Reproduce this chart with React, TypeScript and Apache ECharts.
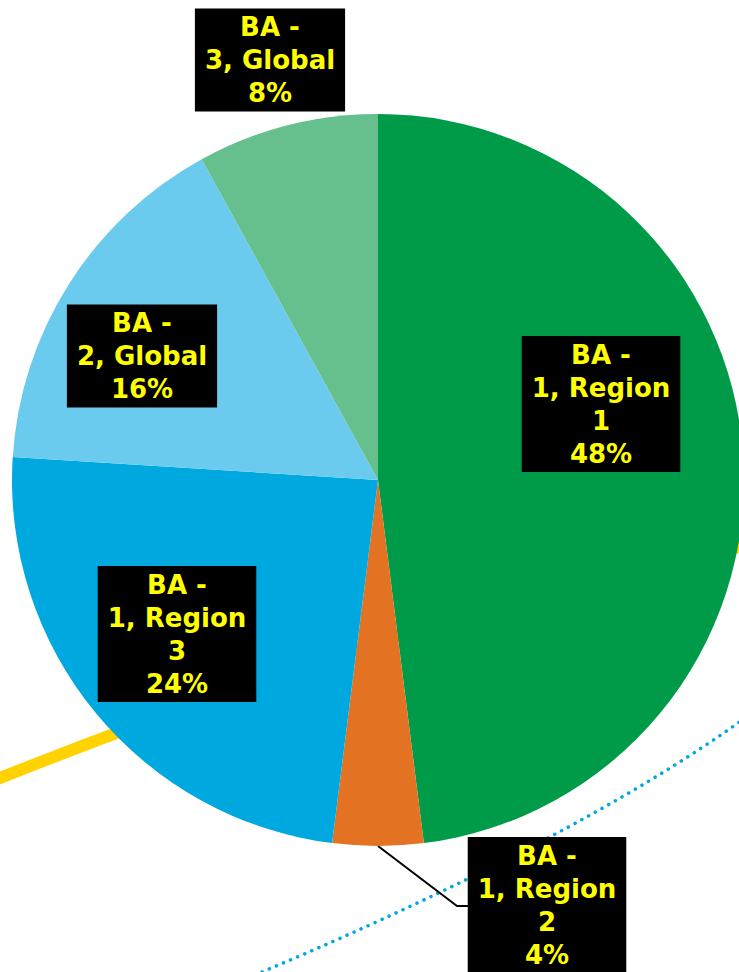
import React, { useEffect, useRef } from 'react';
import * as echarts from 'echarts';

const categories = [
  'BA - 1, Region 1',
  'BA - 1, Region 2',
  'BA - 1, Region 3',
  'BA - 2, Global',
  'BA - 3, Global',
];
const shares = [48, 4, 24, 16, 8];

const sliceColors = ['#009B48', '#E37222', '#00A8E0', '#6BCBEE', '#66C08E'];
const labelCenters: number[][] = [
  [601, 404],
  [547, 905],
  [177, 634],
  [142, 356],
  [270, 60],
];
const leaderPoints: number[][] = [
  [378, 846],
  [457, 906],
  [468, 906],
];

function wrapName(name: string): string {
  return name.replace(' - ', ' -\n').replace(/Region (\d+)/, 'Region\n$1');
}

export default function App() {
  const ref = useRef<HTMLDivElement>(null);
  useEffect(() => {
    if (!ref.current) return;
    const chart = echarts.init(ref.current, null, { renderer: 'svg' });
    const option: any = {
      animation: false,
      backgroundColor: '#ffffff',
      graphic: [
        {
          type: 'bezierCurve',
          z: 0,
          silent: true,
          shape: { x1: -5, y1: 780, x2: 745, y2: 546, cpx1: 416, cpy1: 612 },
          style: { stroke: '#FFD200', lineWidth: 12, fill: null },
        },
        {
          type: 'bezierCurve',
          z: 0,
          silent: true,
          shape: { x1: 255, y1: 975, x2: 745, y2: 718, cpx1: 574, cpy1: 841 },
          style: {
            stroke: '#00A8E0',
            lineWidth: 3.5,
            lineDash: [0.1, 7.6],
            lineCap: 'round',
            fill: null,
          },
        },
      ],
      series: [
        {
          type: 'pie',
          z: 2,
          center: [378, 480],
          radius: 366,
          startAngle: 90,
          clockwise: true,
          silent: true,
          avoidLabelOverlap: false,
          emphasis: { disabled: true },
          itemStyle: { borderWidth: 0 },
          label: {
            show: true,
            position: 'outside',
            formatter: (p: any) => `${wrapName(p.name)}\n${Math.round(p.percent)}%`,
            color: '#FFFF00',
            backgroundColor: '#000000',
            fontFamily: 'DejaVu Sans, Verdana, sans-serif',
            fontWeight: 'bold',
            fontSize: 26,
            lineHeight: 33,
            padding: [2, 10, 2, 10],
            align: 'center',
          },
          labelLine: { show: false },
          labelLayout: (params: any) => {
            const i = params.dataIndex;
            const res: any = {
              x: labelCenters[i][0],
              y: labelCenters[i][1],
              align: 'center',
              verticalAlign: 'middle',
            };
            if (i === 1) res.labelLinePoints = leaderPoints;
            return res;
          },
          data: categories.map((name, i) => ({
            name,
            value: shares[i],
            itemStyle: { color: sliceColors[i] },
            labelLine:
              i === 1
                ? { show: true, lineStyle: { color: '#000000', width: 2 } }
                : { show: false },
          })),
        },
      ],
    };
    chart.setOption(option);
    return () => chart.dispose();
  }, []);
  return (
    <div
      ref={ref}
      style={{ position: 'fixed', left: 0, top: 0, width: 739, height: 972 }}
    />
  );
}
